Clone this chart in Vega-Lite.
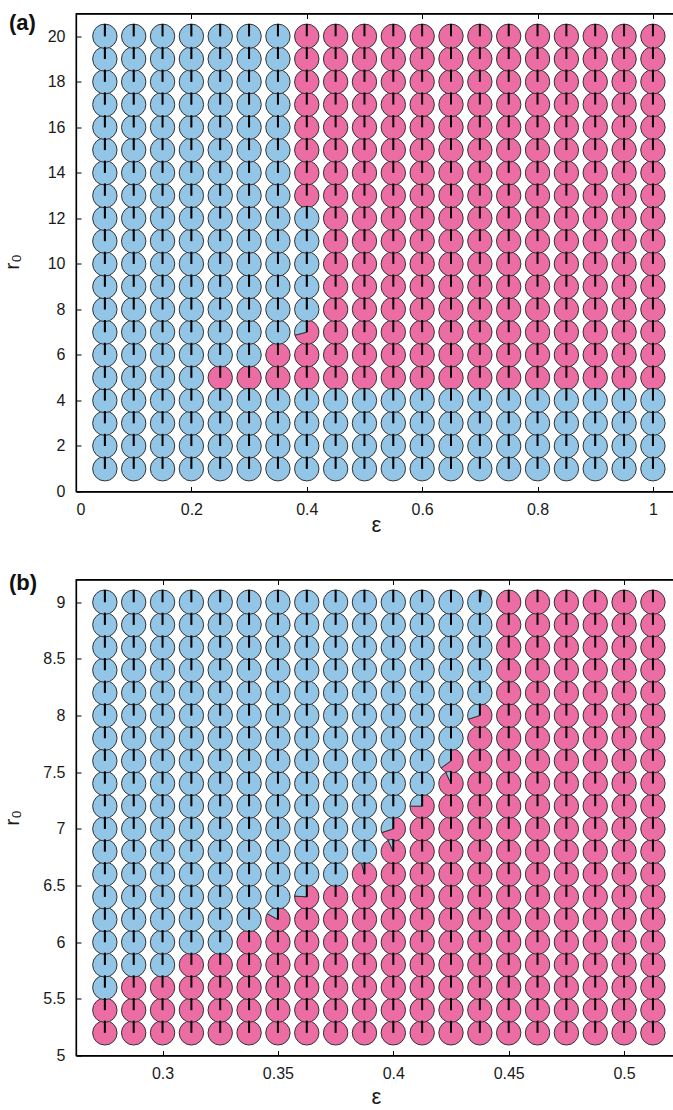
{
  "$schema": "https://vega.github.io/schema/vega-lite/v6.json",
  "background": "white",
  "padding": {"left": 0, "top": 10.5, "right": 0, "bottom": 0},
  "config": {
    "font": "Liberation Sans",
    "view": {"stroke": "#000", "strokeWidth": 1.3},
    "axis": {
      "grid": false,
      "domainColor": "#000",
      "domainWidth": 1.3,
      "tickColor": "#000",
      "tickWidth": 1,
      "tickSize": -5,
      "labelFont": "Liberation Sans",
      "labelFontSize": 16,
      "labelColor": "#1a1a1a",
      "labelPadding": 16,
      "titleFont": "Liberation Sans",
      "titleFontWeight": "normal",
      "titleColor": "#1a1a1a"
    },
    "axisX": {"labelPadding": 15, "titleFontSize": 22, "titleBaseline": "alphabetic"},
    "axisY": {"titleFontSize": 21, "titleX": -54, "titleBaseline": "bottom"},
    "title": {
      "anchor": "start",
      "frame": "group",
      "orient": "top",
      "baseline": "middle",
      "dx": -67,
      "font": "Liberation Sans",
      "fontSize": 22,
      "fontWeight": "bold",
      "color": "#111"
    }
  },
  "datasets": {
    "a": [
      {"e":0.05,"r":1,"p":0},{"e":0.1,"r":1,"p":0},{"e":0.15,"r":1,"p":0},{"e":0.2,"r":1,"p":0},{"e":0.25,"r":1,"p":0},{"e":0.3,"r":1,"p":0},{"e":0.35,"r":1,"p":0},{"e":0.4,"r":1,"p":0},{"e":0.45,"r":1,"p":0},{"e":0.5,"r":1,"p":0},{"e":0.55,"r":1,"p":0},{"e":0.6,"r":1,"p":0},{"e":0.65,"r":1,"p":0},{"e":0.7,"r":1,"p":0},{"e":0.75,"r":1,"p":0},{"e":0.8,"r":1,"p":0},{"e":0.85,"r":1,"p":0},{"e":0.9,"r":1,"p":0},{"e":0.95,"r":1,"p":0},{"e":1,"r":1,"p":0},
      {"e":0.05,"r":2,"p":0},{"e":0.1,"r":2,"p":0},{"e":0.15,"r":2,"p":0},{"e":0.2,"r":2,"p":0},{"e":0.25,"r":2,"p":0},{"e":0.3,"r":2,"p":0},{"e":0.35,"r":2,"p":0},{"e":0.4,"r":2,"p":0},{"e":0.45,"r":2,"p":0},{"e":0.5,"r":2,"p":0},{"e":0.55,"r":2,"p":0},{"e":0.6,"r":2,"p":0},{"e":0.65,"r":2,"p":0},{"e":0.7,"r":2,"p":0},{"e":0.75,"r":2,"p":0},{"e":0.8,"r":2,"p":0},{"e":0.85,"r":2,"p":0},{"e":0.9,"r":2,"p":0},{"e":0.95,"r":2,"p":0},{"e":1,"r":2,"p":0},
      {"e":0.05,"r":3,"p":0},{"e":0.1,"r":3,"p":0},{"e":0.15,"r":3,"p":0},{"e":0.2,"r":3,"p":0},{"e":0.25,"r":3,"p":0},{"e":0.3,"r":3,"p":0},{"e":0.35,"r":3,"p":0},{"e":0.4,"r":3,"p":0},{"e":0.45,"r":3,"p":0},{"e":0.5,"r":3,"p":0},{"e":0.55,"r":3,"p":0},{"e":0.6,"r":3,"p":0},{"e":0.65,"r":3,"p":0},{"e":0.7,"r":3,"p":0},{"e":0.75,"r":3,"p":0},{"e":0.8,"r":3,"p":0},{"e":0.85,"r":3,"p":0},{"e":0.9,"r":3,"p":0},{"e":0.95,"r":3,"p":0},{"e":1,"r":3,"p":0},
      {"e":0.05,"r":4,"p":0},{"e":0.1,"r":4,"p":0},{"e":0.15,"r":4,"p":0},{"e":0.2,"r":4,"p":0},{"e":0.25,"r":4,"p":0},{"e":0.3,"r":4,"p":0},{"e":0.35,"r":4,"p":0},{"e":0.4,"r":4,"p":0},{"e":0.45,"r":4,"p":0},{"e":0.5,"r":4,"p":0},{"e":0.55,"r":4,"p":0},{"e":0.6,"r":4,"p":0},{"e":0.65,"r":4,"p":0},{"e":0.7,"r":4,"p":0},{"e":0.75,"r":4,"p":0},{"e":0.8,"r":4,"p":0},{"e":0.85,"r":4,"p":0},{"e":0.9,"r":4,"p":0},{"e":0.95,"r":4,"p":0},{"e":1,"r":4,"p":0},
      {"e":0.05,"r":5,"p":0},{"e":0.1,"r":5,"p":0},{"e":0.15,"r":5,"p":0},{"e":0.2,"r":5,"p":0},{"e":0.25,"r":5,"p":1},{"e":0.3,"r":5,"p":1},{"e":0.35,"r":5,"p":1},{"e":0.4,"r":5,"p":1},{"e":0.45,"r":5,"p":1},{"e":0.5,"r":5,"p":1},{"e":0.55,"r":5,"p":1},{"e":0.6,"r":5,"p":1},{"e":0.65,"r":5,"p":1},{"e":0.7,"r":5,"p":1},{"e":0.75,"r":5,"p":1},{"e":0.8,"r":5,"p":1},{"e":0.85,"r":5,"p":1},{"e":0.9,"r":5,"p":1},{"e":0.95,"r":5,"p":1},{"e":1,"r":5,"p":1},
      {"e":0.05,"r":6,"p":0},{"e":0.1,"r":6,"p":0},{"e":0.15,"r":6,"p":0},{"e":0.2,"r":6,"p":0},{"e":0.25,"r":6,"p":0},{"e":0.3,"r":6,"p":0},{"e":0.35,"r":6,"p":1},{"e":0.4,"r":6,"p":1},{"e":0.45,"r":6,"p":1},{"e":0.5,"r":6,"p":1},{"e":0.55,"r":6,"p":1},{"e":0.6,"r":6,"p":1},{"e":0.65,"r":6,"p":1},{"e":0.7,"r":6,"p":1},{"e":0.75,"r":6,"p":1},{"e":0.8,"r":6,"p":1},{"e":0.85,"r":6,"p":1},{"e":0.9,"r":6,"p":1},{"e":0.95,"r":6,"p":1},{"e":1,"r":6,"p":1},
      {"e":0.05,"r":7,"p":0},{"e":0.1,"r":7,"p":0},{"e":0.15,"r":7,"p":0},{"e":0.2,"r":7,"p":0},{"e":0.25,"r":7,"p":0},{"e":0.3,"r":7,"p":0},{"e":0.35,"r":7,"p":0},{"e":0.4,"r":7,"p":0.71},{"e":0.45,"r":7,"p":1},{"e":0.5,"r":7,"p":1},{"e":0.55,"r":7,"p":1},{"e":0.6,"r":7,"p":1},{"e":0.65,"r":7,"p":1},{"e":0.7,"r":7,"p":1},{"e":0.75,"r":7,"p":1},{"e":0.8,"r":7,"p":1},{"e":0.85,"r":7,"p":1},{"e":0.9,"r":7,"p":1},{"e":0.95,"r":7,"p":1},{"e":1,"r":7,"p":1},
      {"e":0.05,"r":8,"p":0},{"e":0.1,"r":8,"p":0},{"e":0.15,"r":8,"p":0},{"e":0.2,"r":8,"p":0},{"e":0.25,"r":8,"p":0},{"e":0.3,"r":8,"p":0},{"e":0.35,"r":8,"p":0},{"e":0.4,"r":8,"p":0},{"e":0.45,"r":8,"p":1},{"e":0.5,"r":8,"p":1},{"e":0.55,"r":8,"p":1},{"e":0.6,"r":8,"p":1},{"e":0.65,"r":8,"p":1},{"e":0.7,"r":8,"p":1},{"e":0.75,"r":8,"p":1},{"e":0.8,"r":8,"p":1},{"e":0.85,"r":8,"p":1},{"e":0.9,"r":8,"p":1},{"e":0.95,"r":8,"p":1},{"e":1,"r":8,"p":1},
      {"e":0.05,"r":9,"p":0},{"e":0.1,"r":9,"p":0},{"e":0.15,"r":9,"p":0},{"e":0.2,"r":9,"p":0},{"e":0.25,"r":9,"p":0},{"e":0.3,"r":9,"p":0},{"e":0.35,"r":9,"p":0},{"e":0.4,"r":9,"p":0},{"e":0.45,"r":9,"p":1},{"e":0.5,"r":9,"p":1},{"e":0.55,"r":9,"p":1},{"e":0.6,"r":9,"p":1},{"e":0.65,"r":9,"p":1},{"e":0.7,"r":9,"p":1},{"e":0.75,"r":9,"p":1},{"e":0.8,"r":9,"p":1},{"e":0.85,"r":9,"p":1},{"e":0.9,"r":9,"p":1},{"e":0.95,"r":9,"p":1},{"e":1,"r":9,"p":1},
      {"e":0.05,"r":10,"p":0},{"e":0.1,"r":10,"p":0},{"e":0.15,"r":10,"p":0},{"e":0.2,"r":10,"p":0},{"e":0.25,"r":10,"p":0},{"e":0.3,"r":10,"p":0},{"e":0.35,"r":10,"p":0},{"e":0.4,"r":10,"p":0},{"e":0.45,"r":10,"p":1},{"e":0.5,"r":10,"p":1},{"e":0.55,"r":10,"p":1},{"e":0.6,"r":10,"p":1},{"e":0.65,"r":10,"p":1},{"e":0.7,"r":10,"p":1},{"e":0.75,"r":10,"p":1},{"e":0.8,"r":10,"p":1},{"e":0.85,"r":10,"p":1},{"e":0.9,"r":10,"p":1},{"e":0.95,"r":10,"p":1},{"e":1,"r":10,"p":1},
      {"e":0.05,"r":11,"p":0},{"e":0.1,"r":11,"p":0},{"e":0.15,"r":11,"p":0},{"e":0.2,"r":11,"p":0},{"e":0.25,"r":11,"p":0},{"e":0.3,"r":11,"p":0},{"e":0.35,"r":11,"p":0},{"e":0.4,"r":11,"p":0},{"e":0.45,"r":11,"p":1},{"e":0.5,"r":11,"p":1},{"e":0.55,"r":11,"p":1},{"e":0.6,"r":11,"p":1},{"e":0.65,"r":11,"p":1},{"e":0.7,"r":11,"p":1},{"e":0.75,"r":11,"p":1},{"e":0.8,"r":11,"p":1},{"e":0.85,"r":11,"p":1},{"e":0.9,"r":11,"p":1},{"e":0.95,"r":11,"p":1},{"e":1,"r":11,"p":1},
      {"e":0.05,"r":12,"p":0},{"e":0.1,"r":12,"p":0},{"e":0.15,"r":12,"p":0},{"e":0.2,"r":12,"p":0},{"e":0.25,"r":12,"p":0},{"e":0.3,"r":12,"p":0},{"e":0.35,"r":12,"p":0},{"e":0.4,"r":12,"p":0},{"e":0.45,"r":12,"p":1},{"e":0.5,"r":12,"p":1},{"e":0.55,"r":12,"p":1},{"e":0.6,"r":12,"p":1},{"e":0.65,"r":12,"p":1},{"e":0.7,"r":12,"p":1},{"e":0.75,"r":12,"p":1},{"e":0.8,"r":12,"p":1},{"e":0.85,"r":12,"p":1},{"e":0.9,"r":12,"p":1},{"e":0.95,"r":12,"p":1},{"e":1,"r":12,"p":1},
      {"e":0.05,"r":13,"p":0},{"e":0.1,"r":13,"p":0},{"e":0.15,"r":13,"p":0},{"e":0.2,"r":13,"p":0},{"e":0.25,"r":13,"p":0},{"e":0.3,"r":13,"p":0},{"e":0.35,"r":13,"p":0},{"e":0.4,"r":13,"p":1},{"e":0.45,"r":13,"p":1},{"e":0.5,"r":13,"p":1},{"e":0.55,"r":13,"p":1},{"e":0.6,"r":13,"p":1},{"e":0.65,"r":13,"p":1},{"e":0.7,"r":13,"p":1},{"e":0.75,"r":13,"p":1},{"e":0.8,"r":13,"p":1},{"e":0.85,"r":13,"p":1},{"e":0.9,"r":13,"p":1},{"e":0.95,"r":13,"p":1},{"e":1,"r":13,"p":1},
      {"e":0.05,"r":14,"p":0},{"e":0.1,"r":14,"p":0},{"e":0.15,"r":14,"p":0},{"e":0.2,"r":14,"p":0},{"e":0.25,"r":14,"p":0},{"e":0.3,"r":14,"p":0},{"e":0.35,"r":14,"p":0},{"e":0.4,"r":14,"p":1},{"e":0.45,"r":14,"p":1},{"e":0.5,"r":14,"p":1},{"e":0.55,"r":14,"p":1},{"e":0.6,"r":14,"p":1},{"e":0.65,"r":14,"p":1},{"e":0.7,"r":14,"p":1},{"e":0.75,"r":14,"p":1},{"e":0.8,"r":14,"p":1},{"e":0.85,"r":14,"p":1},{"e":0.9,"r":14,"p":1},{"e":0.95,"r":14,"p":1},{"e":1,"r":14,"p":1},
      {"e":0.05,"r":15,"p":0},{"e":0.1,"r":15,"p":0},{"e":0.15,"r":15,"p":0},{"e":0.2,"r":15,"p":0},{"e":0.25,"r":15,"p":0},{"e":0.3,"r":15,"p":0},{"e":0.35,"r":15,"p":0},{"e":0.4,"r":15,"p":1},{"e":0.45,"r":15,"p":1},{"e":0.5,"r":15,"p":1},{"e":0.55,"r":15,"p":1},{"e":0.6,"r":15,"p":1},{"e":0.65,"r":15,"p":1},{"e":0.7,"r":15,"p":1},{"e":0.75,"r":15,"p":1},{"e":0.8,"r":15,"p":1},{"e":0.85,"r":15,"p":1},{"e":0.9,"r":15,"p":1},{"e":0.95,"r":15,"p":1},{"e":1,"r":15,"p":1},
      {"e":0.05,"r":16,"p":0},{"e":0.1,"r":16,"p":0},{"e":0.15,"r":16,"p":0},{"e":0.2,"r":16,"p":0},{"e":0.25,"r":16,"p":0},{"e":0.3,"r":16,"p":0},{"e":0.35,"r":16,"p":0},{"e":0.4,"r":16,"p":1},{"e":0.45,"r":16,"p":1},{"e":0.5,"r":16,"p":1},{"e":0.55,"r":16,"p":1},{"e":0.6,"r":16,"p":1},{"e":0.65,"r":16,"p":1},{"e":0.7,"r":16,"p":1},{"e":0.75,"r":16,"p":1},{"e":0.8,"r":16,"p":1},{"e":0.85,"r":16,"p":1},{"e":0.9,"r":16,"p":1},{"e":0.95,"r":16,"p":1},{"e":1,"r":16,"p":1},
      {"e":0.05,"r":17,"p":0},{"e":0.1,"r":17,"p":0},{"e":0.15,"r":17,"p":0},{"e":0.2,"r":17,"p":0},{"e":0.25,"r":17,"p":0},{"e":0.3,"r":17,"p":0},{"e":0.35,"r":17,"p":0},{"e":0.4,"r":17,"p":1},{"e":0.45,"r":17,"p":1},{"e":0.5,"r":17,"p":1},{"e":0.55,"r":17,"p":1},{"e":0.6,"r":17,"p":1},{"e":0.65,"r":17,"p":1},{"e":0.7,"r":17,"p":1},{"e":0.75,"r":17,"p":1},{"e":0.8,"r":17,"p":1},{"e":0.85,"r":17,"p":1},{"e":0.9,"r":17,"p":1},{"e":0.95,"r":17,"p":1},{"e":1,"r":17,"p":1},
      {"e":0.05,"r":18,"p":0},{"e":0.1,"r":18,"p":0},{"e":0.15,"r":18,"p":0},{"e":0.2,"r":18,"p":0},{"e":0.25,"r":18,"p":0},{"e":0.3,"r":18,"p":0},{"e":0.35,"r":18,"p":0},{"e":0.4,"r":18,"p":1},{"e":0.45,"r":18,"p":1},{"e":0.5,"r":18,"p":1},{"e":0.55,"r":18,"p":1},{"e":0.6,"r":18,"p":1},{"e":0.65,"r":18,"p":1},{"e":0.7,"r":18,"p":1},{"e":0.75,"r":18,"p":1},{"e":0.8,"r":18,"p":1},{"e":0.85,"r":18,"p":1},{"e":0.9,"r":18,"p":1},{"e":0.95,"r":18,"p":1},{"e":1,"r":18,"p":1},
      {"e":0.05,"r":19,"p":0},{"e":0.1,"r":19,"p":0},{"e":0.15,"r":19,"p":0},{"e":0.2,"r":19,"p":0},{"e":0.25,"r":19,"p":0},{"e":0.3,"r":19,"p":0},{"e":0.35,"r":19,"p":0},{"e":0.4,"r":19,"p":1},{"e":0.45,"r":19,"p":1},{"e":0.5,"r":19,"p":1},{"e":0.55,"r":19,"p":1},{"e":0.6,"r":19,"p":1},{"e":0.65,"r":19,"p":1},{"e":0.7,"r":19,"p":1},{"e":0.75,"r":19,"p":1},{"e":0.8,"r":19,"p":1},{"e":0.85,"r":19,"p":1},{"e":0.9,"r":19,"p":1},{"e":0.95,"r":19,"p":1},{"e":1,"r":19,"p":1},
      {"e":0.05,"r":20,"p":0},{"e":0.1,"r":20,"p":0},{"e":0.15,"r":20,"p":0},{"e":0.2,"r":20,"p":0},{"e":0.25,"r":20,"p":0},{"e":0.3,"r":20,"p":0},{"e":0.35,"r":20,"p":0},{"e":0.4,"r":20,"p":1},{"e":0.45,"r":20,"p":1},{"e":0.5,"r":20,"p":1},{"e":0.55,"r":20,"p":1},{"e":0.6,"r":20,"p":1},{"e":0.65,"r":20,"p":1},{"e":0.7,"r":20,"p":1},{"e":0.75,"r":20,"p":1},{"e":0.8,"r":20,"p":1},{"e":0.85,"r":20,"p":1},{"e":0.9,"r":20,"p":1},{"e":0.95,"r":20,"p":1},{"e":1,"r":20,"p":1}
    ],
    "b": [
      {"e":0.275,"r":5.2,"p":1},{"e":0.2875,"r":5.2,"p":1},{"e":0.3,"r":5.2,"p":1},{"e":0.3125,"r":5.2,"p":1},{"e":0.325,"r":5.2,"p":1},{"e":0.3375,"r":5.2,"p":1},{"e":0.35,"r":5.2,"p":1},{"e":0.3625,"r":5.2,"p":1},{"e":0.375,"r":5.2,"p":1},{"e":0.3875,"r":5.2,"p":1},{"e":0.4,"r":5.2,"p":1},{"e":0.4125,"r":5.2,"p":1},{"e":0.425,"r":5.2,"p":1},{"e":0.4375,"r":5.2,"p":1},{"e":0.45,"r":5.2,"p":1},{"e":0.4625,"r":5.2,"p":1},{"e":0.475,"r":5.2,"p":1},{"e":0.4875,"r":5.2,"p":1},{"e":0.5,"r":5.2,"p":1},{"e":0.5125,"r":5.2,"p":1},
      {"e":0.275,"r":5.4,"p":1},{"e":0.2875,"r":5.4,"p":1},{"e":0.3,"r":5.4,"p":1},{"e":0.3125,"r":5.4,"p":1},{"e":0.325,"r":5.4,"p":1},{"e":0.3375,"r":5.4,"p":1},{"e":0.35,"r":5.4,"p":1},{"e":0.3625,"r":5.4,"p":1},{"e":0.375,"r":5.4,"p":1},{"e":0.3875,"r":5.4,"p":1},{"e":0.4,"r":5.4,"p":1},{"e":0.4125,"r":5.4,"p":1},{"e":0.425,"r":5.4,"p":1},{"e":0.4375,"r":5.4,"p":1},{"e":0.45,"r":5.4,"p":1},{"e":0.4625,"r":5.4,"p":1},{"e":0.475,"r":5.4,"p":1},{"e":0.4875,"r":5.4,"p":1},{"e":0.5,"r":5.4,"p":1},{"e":0.5125,"r":5.4,"p":1},
      {"e":0.275,"r":5.6,"p":0},{"e":0.2875,"r":5.6,"p":1},{"e":0.3,"r":5.6,"p":1},{"e":0.3125,"r":5.6,"p":1},{"e":0.325,"r":5.6,"p":1},{"e":0.3375,"r":5.6,"p":1},{"e":0.35,"r":5.6,"p":1},{"e":0.3625,"r":5.6,"p":1},{"e":0.375,"r":5.6,"p":1},{"e":0.3875,"r":5.6,"p":1},{"e":0.4,"r":5.6,"p":1},{"e":0.4125,"r":5.6,"p":1},{"e":0.425,"r":5.6,"p":1},{"e":0.4375,"r":5.6,"p":1},{"e":0.45,"r":5.6,"p":1},{"e":0.4625,"r":5.6,"p":1},{"e":0.475,"r":5.6,"p":1},{"e":0.4875,"r":5.6,"p":1},{"e":0.5,"r":5.6,"p":1},{"e":0.5125,"r":5.6,"p":1},
      {"e":0.275,"r":5.8,"p":0},{"e":0.2875,"r":5.8,"p":0},{"e":0.3,"r":5.8,"p":0},{"e":0.3125,"r":5.8,"p":1},{"e":0.325,"r":5.8,"p":1},{"e":0.3375,"r":5.8,"p":1},{"e":0.35,"r":5.8,"p":1},{"e":0.3625,"r":5.8,"p":1},{"e":0.375,"r":5.8,"p":1},{"e":0.3875,"r":5.8,"p":1},{"e":0.4,"r":5.8,"p":1},{"e":0.4125,"r":5.8,"p":1},{"e":0.425,"r":5.8,"p":1},{"e":0.4375,"r":5.8,"p":1},{"e":0.45,"r":5.8,"p":1},{"e":0.4625,"r":5.8,"p":1},{"e":0.475,"r":5.8,"p":1},{"e":0.4875,"r":5.8,"p":1},{"e":0.5,"r":5.8,"p":1},{"e":0.5125,"r":5.8,"p":1},
      {"e":0.275,"r":6.0,"p":0},{"e":0.2875,"r":6.0,"p":0},{"e":0.3,"r":6.0,"p":0},{"e":0.3125,"r":6.0,"p":0},{"e":0.325,"r":6.0,"p":0},{"e":0.3375,"r":6.0,"p":1},{"e":0.35,"r":6.0,"p":1},{"e":0.3625,"r":6.0,"p":1},{"e":0.375,"r":6.0,"p":1},{"e":0.3875,"r":6.0,"p":1},{"e":0.4,"r":6.0,"p":1},{"e":0.4125,"r":6.0,"p":1},{"e":0.425,"r":6.0,"p":1},{"e":0.4375,"r":6.0,"p":1},{"e":0.45,"r":6.0,"p":1},{"e":0.4625,"r":6.0,"p":1},{"e":0.475,"r":6.0,"p":1},{"e":0.4875,"r":6.0,"p":1},{"e":0.5,"r":6.0,"p":1},{"e":0.5125,"r":6.0,"p":1},
      {"e":0.275,"r":6.2,"p":0},{"e":0.2875,"r":6.2,"p":0},{"e":0.3,"r":6.2,"p":0},{"e":0.3125,"r":6.2,"p":0},{"e":0.325,"r":6.2,"p":0},{"e":0.3375,"r":6.2,"p":0},{"e":0.35,"r":6.2,"p":0.83},{"e":0.3625,"r":6.2,"p":1},{"e":0.375,"r":6.2,"p":1},{"e":0.3875,"r":6.2,"p":1},{"e":0.4,"r":6.2,"p":1},{"e":0.4125,"r":6.2,"p":1},{"e":0.425,"r":6.2,"p":1},{"e":0.4375,"r":6.2,"p":1},{"e":0.45,"r":6.2,"p":1},{"e":0.4625,"r":6.2,"p":1},{"e":0.475,"r":6.2,"p":1},{"e":0.4875,"r":6.2,"p":1},{"e":0.5,"r":6.2,"p":1},{"e":0.5125,"r":6.2,"p":1},
      {"e":0.275,"r":6.4,"p":0},{"e":0.2875,"r":6.4,"p":0},{"e":0.3,"r":6.4,"p":0},{"e":0.3125,"r":6.4,"p":0},{"e":0.325,"r":6.4,"p":0},{"e":0.3375,"r":6.4,"p":0},{"e":0.35,"r":6.4,"p":0},{"e":0.3625,"r":6.4,"p":0.76},{"e":0.375,"r":6.4,"p":1},{"e":0.3875,"r":6.4,"p":1},{"e":0.4,"r":6.4,"p":1},{"e":0.4125,"r":6.4,"p":1},{"e":0.425,"r":6.4,"p":1},{"e":0.4375,"r":6.4,"p":1},{"e":0.45,"r":6.4,"p":1},{"e":0.4625,"r":6.4,"p":1},{"e":0.475,"r":6.4,"p":1},{"e":0.4875,"r":6.4,"p":1},{"e":0.5,"r":6.4,"p":1},{"e":0.5125,"r":6.4,"p":1},
      {"e":0.275,"r":6.6,"p":0},{"e":0.2875,"r":6.6,"p":0},{"e":0.3,"r":6.6,"p":0},{"e":0.3125,"r":6.6,"p":0},{"e":0.325,"r":6.6,"p":0},{"e":0.3375,"r":6.6,"p":0},{"e":0.35,"r":6.6,"p":0},{"e":0.3625,"r":6.6,"p":0},{"e":0.375,"r":6.6,"p":0},{"e":0.3875,"r":6.6,"p":0.96},{"e":0.4,"r":6.6,"p":1},{"e":0.4125,"r":6.6,"p":1},{"e":0.425,"r":6.6,"p":1},{"e":0.4375,"r":6.6,"p":1},{"e":0.45,"r":6.6,"p":1},{"e":0.4625,"r":6.6,"p":1},{"e":0.475,"r":6.6,"p":1},{"e":0.4875,"r":6.6,"p":1},{"e":0.5,"r":6.6,"p":1},{"e":0.5125,"r":6.6,"p":1},
      {"e":0.275,"r":6.8,"p":0},{"e":0.2875,"r":6.8,"p":0},{"e":0.3,"r":6.8,"p":0},{"e":0.3125,"r":6.8,"p":0},{"e":0.325,"r":6.8,"p":0},{"e":0.3375,"r":6.8,"p":0},{"e":0.35,"r":6.8,"p":0},{"e":0.3625,"r":6.8,"p":0},{"e":0.375,"r":6.8,"p":0},{"e":0.3875,"r":6.8,"p":0},{"e":0.4,"r":6.8,"p":0.93},{"e":0.4125,"r":6.8,"p":1},{"e":0.425,"r":6.8,"p":1},{"e":0.4375,"r":6.8,"p":1},{"e":0.45,"r":6.8,"p":1},{"e":0.4625,"r":6.8,"p":1},{"e":0.475,"r":6.8,"p":1},{"e":0.4875,"r":6.8,"p":1},{"e":0.5,"r":6.8,"p":1},{"e":0.5125,"r":6.8,"p":1},
      {"e":0.275,"r":7.0,"p":0},{"e":0.2875,"r":7.0,"p":0},{"e":0.3,"r":7.0,"p":0},{"e":0.3125,"r":7.0,"p":0},{"e":0.325,"r":7.0,"p":0},{"e":0.3375,"r":7.0,"p":0},{"e":0.35,"r":7.0,"p":0},{"e":0.3625,"r":7.0,"p":0},{"e":0.375,"r":7.0,"p":0},{"e":0.3875,"r":7.0,"p":0},{"e":0.4,"r":7.0,"p":0.7},{"e":0.4125,"r":7.0,"p":1},{"e":0.425,"r":7.0,"p":1},{"e":0.4375,"r":7.0,"p":1},{"e":0.45,"r":7.0,"p":1},{"e":0.4625,"r":7.0,"p":1},{"e":0.475,"r":7.0,"p":1},{"e":0.4875,"r":7.0,"p":1},{"e":0.5,"r":7.0,"p":1},{"e":0.5125,"r":7.0,"p":1},
      {"e":0.275,"r":7.2,"p":0},{"e":0.2875,"r":7.2,"p":0},{"e":0.3,"r":7.2,"p":0},{"e":0.3125,"r":7.2,"p":0},{"e":0.325,"r":7.2,"p":0},{"e":0.3375,"r":7.2,"p":0},{"e":0.35,"r":7.2,"p":0},{"e":0.3625,"r":7.2,"p":0},{"e":0.375,"r":7.2,"p":0},{"e":0.3875,"r":7.2,"p":0},{"e":0.4,"r":7.2,"p":0},{"e":0.4125,"r":7.2,"p":0.75},{"e":0.425,"r":7.2,"p":1},{"e":0.4375,"r":7.2,"p":1},{"e":0.45,"r":7.2,"p":1},{"e":0.4625,"r":7.2,"p":1},{"e":0.475,"r":7.2,"p":1},{"e":0.4875,"r":7.2,"p":1},{"e":0.5,"r":7.2,"p":1},{"e":0.5125,"r":7.2,"p":1},
      {"e":0.275,"r":7.4,"p":0},{"e":0.2875,"r":7.4,"p":0},{"e":0.3,"r":7.4,"p":0},{"e":0.3125,"r":7.4,"p":0},{"e":0.325,"r":7.4,"p":0},{"e":0.3375,"r":7.4,"p":0},{"e":0.35,"r":7.4,"p":0},{"e":0.3625,"r":7.4,"p":0},{"e":0.375,"r":7.4,"p":0},{"e":0.3875,"r":7.4,"p":0},{"e":0.4,"r":7.4,"p":0},{"e":0.4125,"r":7.4,"p":0},{"e":0.425,"r":7.4,"p":0.93},{"e":0.4375,"r":7.4,"p":1},{"e":0.45,"r":7.4,"p":1},{"e":0.4625,"r":7.4,"p":1},{"e":0.475,"r":7.4,"p":1},{"e":0.4875,"r":7.4,"p":1},{"e":0.5,"r":7.4,"p":1},{"e":0.5125,"r":7.4,"p":1},
      {"e":0.275,"r":7.6,"p":0},{"e":0.2875,"r":7.6,"p":0},{"e":0.3,"r":7.6,"p":0},{"e":0.3125,"r":7.6,"p":0},{"e":0.325,"r":7.6,"p":0},{"e":0.3375,"r":7.6,"p":0},{"e":0.35,"r":7.6,"p":0},{"e":0.3625,"r":7.6,"p":0},{"e":0.375,"r":7.6,"p":0},{"e":0.3875,"r":7.6,"p":0},{"e":0.4,"r":7.6,"p":0},{"e":0.4125,"r":7.6,"p":0},{"e":0.425,"r":7.6,"p":0.65},{"e":0.4375,"r":7.6,"p":1},{"e":0.45,"r":7.6,"p":1},{"e":0.4625,"r":7.6,"p":1},{"e":0.475,"r":7.6,"p":1},{"e":0.4875,"r":7.6,"p":1},{"e":0.5,"r":7.6,"p":1},{"e":0.5125,"r":7.6,"p":1},
      {"e":0.275,"r":7.8,"p":0},{"e":0.2875,"r":7.8,"p":0},{"e":0.3,"r":7.8,"p":0},{"e":0.3125,"r":7.8,"p":0},{"e":0.325,"r":7.8,"p":0},{"e":0.3375,"r":7.8,"p":0},{"e":0.35,"r":7.8,"p":0},{"e":0.3625,"r":7.8,"p":0},{"e":0.375,"r":7.8,"p":0},{"e":0.3875,"r":7.8,"p":0},{"e":0.4,"r":7.8,"p":0},{"e":0.4125,"r":7.8,"p":0},{"e":0.425,"r":7.8,"p":0},{"e":0.4375,"r":7.8,"p":1},{"e":0.45,"r":7.8,"p":1},{"e":0.4625,"r":7.8,"p":1},{"e":0.475,"r":7.8,"p":1},{"e":0.4875,"r":7.8,"p":1},{"e":0.5,"r":7.8,"p":1},{"e":0.5125,"r":7.8,"p":1},
      {"e":0.275,"r":8.0,"p":0},{"e":0.2875,"r":8.0,"p":0},{"e":0.3,"r":8.0,"p":0},{"e":0.3125,"r":8.0,"p":0},{"e":0.325,"r":8.0,"p":0},{"e":0.3375,"r":8.0,"p":0},{"e":0.35,"r":8.0,"p":0},{"e":0.3625,"r":8.0,"p":0},{"e":0.375,"r":8.0,"p":0},{"e":0.3875,"r":8.0,"p":0},{"e":0.4,"r":8.0,"p":0},{"e":0.4125,"r":8.0,"p":0},{"e":0.425,"r":8.0,"p":0},{"e":0.4375,"r":8.0,"p":0.7},{"e":0.45,"r":8.0,"p":1},{"e":0.4625,"r":8.0,"p":1},{"e":0.475,"r":8.0,"p":1},{"e":0.4875,"r":8.0,"p":1},{"e":0.5,"r":8.0,"p":1},{"e":0.5125,"r":8.0,"p":1},
      {"e":0.275,"r":8.2,"p":0},{"e":0.2875,"r":8.2,"p":0},{"e":0.3,"r":8.2,"p":0},{"e":0.3125,"r":8.2,"p":0},{"e":0.325,"r":8.2,"p":0},{"e":0.3375,"r":8.2,"p":0},{"e":0.35,"r":8.2,"p":0},{"e":0.3625,"r":8.2,"p":0},{"e":0.375,"r":8.2,"p":0},{"e":0.3875,"r":8.2,"p":0},{"e":0.4,"r":8.2,"p":0},{"e":0.4125,"r":8.2,"p":0},{"e":0.425,"r":8.2,"p":0},{"e":0.4375,"r":8.2,"p":0},{"e":0.45,"r":8.2,"p":1},{"e":0.4625,"r":8.2,"p":1},{"e":0.475,"r":8.2,"p":1},{"e":0.4875,"r":8.2,"p":1},{"e":0.5,"r":8.2,"p":1},{"e":0.5125,"r":8.2,"p":1},
      {"e":0.275,"r":8.4,"p":0},{"e":0.2875,"r":8.4,"p":0},{"e":0.3,"r":8.4,"p":0},{"e":0.3125,"r":8.4,"p":0},{"e":0.325,"r":8.4,"p":0},{"e":0.3375,"r":8.4,"p":0},{"e":0.35,"r":8.4,"p":0},{"e":0.3625,"r":8.4,"p":0},{"e":0.375,"r":8.4,"p":0},{"e":0.3875,"r":8.4,"p":0},{"e":0.4,"r":8.4,"p":0},{"e":0.4125,"r":8.4,"p":0},{"e":0.425,"r":8.4,"p":0},{"e":0.4375,"r":8.4,"p":0},{"e":0.45,"r":8.4,"p":1},{"e":0.4625,"r":8.4,"p":1},{"e":0.475,"r":8.4,"p":1},{"e":0.4875,"r":8.4,"p":1},{"e":0.5,"r":8.4,"p":1},{"e":0.5125,"r":8.4,"p":1},
      {"e":0.275,"r":8.6,"p":0},{"e":0.2875,"r":8.6,"p":0},{"e":0.3,"r":8.6,"p":0},{"e":0.3125,"r":8.6,"p":0},{"e":0.325,"r":8.6,"p":0},{"e":0.3375,"r":8.6,"p":0},{"e":0.35,"r":8.6,"p":0},{"e":0.3625,"r":8.6,"p":0},{"e":0.375,"r":8.6,"p":0},{"e":0.3875,"r":8.6,"p":0},{"e":0.4,"r":8.6,"p":0},{"e":0.4125,"r":8.6,"p":0},{"e":0.425,"r":8.6,"p":0},{"e":0.4375,"r":8.6,"p":0},{"e":0.45,"r":8.6,"p":1},{"e":0.4625,"r":8.6,"p":1},{"e":0.475,"r":8.6,"p":1},{"e":0.4875,"r":8.6,"p":1},{"e":0.5,"r":8.6,"p":1},{"e":0.5125,"r":8.6,"p":1},
      {"e":0.275,"r":8.8,"p":0},{"e":0.2875,"r":8.8,"p":0},{"e":0.3,"r":8.8,"p":0},{"e":0.3125,"r":8.8,"p":0},{"e":0.325,"r":8.8,"p":0},{"e":0.3375,"r":8.8,"p":0},{"e":0.35,"r":8.8,"p":0},{"e":0.3625,"r":8.8,"p":0},{"e":0.375,"r":8.8,"p":0},{"e":0.3875,"r":8.8,"p":0},{"e":0.4,"r":8.8,"p":0},{"e":0.4125,"r":8.8,"p":0},{"e":0.425,"r":8.8,"p":0},{"e":0.4375,"r":8.8,"p":0},{"e":0.45,"r":8.8,"p":1},{"e":0.4625,"r":8.8,"p":1},{"e":0.475,"r":8.8,"p":1},{"e":0.4875,"r":8.8,"p":1},{"e":0.5,"r":8.8,"p":1},{"e":0.5125,"r":8.8,"p":1},
      {"e":0.275,"r":9.0,"p":0},{"e":0.2875,"r":9.0,"p":0},{"e":0.3,"r":9.0,"p":0},{"e":0.3125,"r":9.0,"p":0},{"e":0.325,"r":9.0,"p":0},{"e":0.3375,"r":9.0,"p":0},{"e":0.35,"r":9.0,"p":0},{"e":0.3625,"r":9.0,"p":0},{"e":0.375,"r":9.0,"p":0},{"e":0.3875,"r":9.0,"p":0},{"e":0.4,"r":9.0,"p":0},{"e":0.4125,"r":9.0,"p":0},{"e":0.425,"r":9.0,"p":0},{"e":0.4375,"r":9.0,"p":0.03},{"e":0.45,"r":9.0,"p":1},{"e":0.4625,"r":9.0,"p":1},{"e":0.475,"r":9.0,"p":1},{"e":0.4875,"r":9.0,"p":1},{"e":0.5,"r":9.0,"p":1},{"e":0.5125,"r":9.0,"p":1}
    ]
  },
  "bounds": "flush",
  "spacing": 88,
  "vconcat": [
    {
      "width": 600,
      "height": 478,
      "title": {"text": "(a)", "offset": -22},
      "data": {"name": "a"},
      "encoding": {
        "y": {
          "field": "r", "type": "quantitative",
          "scale": {"domain": [0, 21], "nice": false, "zero": false},
          "axis": {"values": [0, 2, 4, 6, 8, 10, 12, 14, 16, 18, 20], "title": "r₀", "titleY": 248}
        }
      },
      "layer": [
        {
          "transform": [{"filter": "datum.p > 0"}],
          "mark": {"type": "arc", "radius": 12.2, "fill": "#ec6ca4", "stroke": "#333", "strokeWidth": 1},
          "encoding": {
            "x": {"field": "e", "type": "quantitative", "scale": {"domain": [0, 1.04], "nice": false, "zero": false},
                  "axis": {"values": [0, 0.2, 0.4, 0.6, 0.8, 1], "format": "~g", "title": "ε", "titleY": 40}},
            "theta": {"field": "p", "type": "quantitative", "stack": null, "scale": {"domain": [0, 1], "zero": true, "nice": false}},
            "theta2": {"value": 0}
          }
        },
        {
          "transform": [{"filter": "datum.p < 1"}],
          "mark": {"type": "arc", "radius": 12.2, "fill": "#93c5e6", "stroke": "#333", "strokeWidth": 1},
          "encoding": {
            "x": {"field": "e", "type": "quantitative", "axis": null},
            "theta": {"field": "p", "type": "quantitative", "stack": null},
            "theta2": {"value": 6.283185307}
          }
        },
        {
          "mark": {"type": "point", "shape": "M0,0L0,-1", "size": 595, "filled": false, "stroke": "#000", "strokeWidth": 2, "opacity": 1},
          "encoding": {
            "x": {"field": "e", "type": "quantitative",
                  "axis": {"orient": "top", "values": [0, 0.2, 0.4, 0.6, 0.8, 1], "labels": false, "title": null}}
          }
        }
      ],
      "resolve": {"axis": {"x": "independent"}}
    },
    {
      "width": 600,
      "height": 476,
      "title": {"text": "(b)", "offset": -16},
      "data": {"name": "b"},
      "encoding": {
        "y": {
          "field": "r", "type": "quantitative",
          "scale": {"domain": [5, 9.2], "nice": false, "zero": false},
          "axis": {"values": [5, 5.5, 6, 6.5, 7, 7.5, 8, 8.5, 9], "format": "~g", "title": "r₀", "titleY": 238}
        }
      },
      "layer": [
        {
          "transform": [{"filter": "datum.p > 0"}],
          "mark": {"type": "arc", "radius": 12.2, "fill": "#ec6ca4", "stroke": "#333", "strokeWidth": 1},
          "encoding": {
            "x": {"field": "e", "type": "quantitative", "scale": {"domain": [0.2625, 0.5225], "nice": false, "zero": false},
                  "axis": {"values": [0.3, 0.35, 0.4, 0.45, 0.5], "format": "~g", "title": "ε", "titleY": 48}},
            "theta": {"field": "p", "type": "quantitative", "stack": null, "scale": {"domain": [0, 1], "zero": true, "nice": false}},
            "theta2": {"value": 0}
          }
        },
        {
          "transform": [{"filter": "datum.p < 1"}],
          "mark": {"type": "arc", "radius": 12.2, "fill": "#93c5e6", "stroke": "#333", "strokeWidth": 1},
          "encoding": {
            "x": {"field": "e", "type": "quantitative", "axis": null},
            "theta": {"field": "p", "type": "quantitative", "stack": null},
            "theta2": {"value": 6.283185307}
          }
        },
        {
          "mark": {"type": "point", "shape": "M0,0L0,-1", "size": 595, "filled": false, "stroke": "#000", "strokeWidth": 2, "opacity": 1},
          "encoding": {
            "x": {"field": "e", "type": "quantitative",
                  "axis": {"orient": "top", "values": [0.3, 0.35, 0.4, 0.45, 0.5], "labels": false, "title": null}}
          }
        }
      ],
      "resolve": {"axis": {"x": "independent"}}
    }
  ]
}
